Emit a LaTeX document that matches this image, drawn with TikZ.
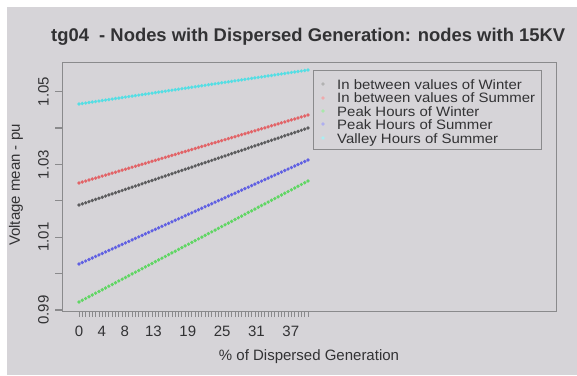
\documentclass[tikz,border=0pt]{standalone}
\usepackage{fontspec}
\setmainfont{Liberation Sans}
\definecolor{bg}{RGB}{214,212,216}
\definecolor{axc}{RGB}{138,138,140}
\definecolor{txt}{RGB}{50,50,52}
\definecolor{ccyan}{RGB}{85,222,228}
\definecolor{cred}{RGB}{226,100,104}
\definecolor{cblack}{RGB}{92,92,94}
\definecolor{cblue}{RGB}{96,96,226}
\definecolor{cgreen}{RGB}{96,214,100}
\newcommand\dline[3]{\foreach \i in {0,...,69}{\fill[#1] ({79+\i*229/69},{#2+(#3-#2)*\i/69}) circle[radius=1.85];}}
\tikzset{
  axisline/.style={draw=axc, line width=1.1pt},
  ticklab/.style={font=\fontsize{15}{17}\selectfont, text=txt, inner sep=0pt},
  legtext/.style={font=\fontsize{13.6}{15}\selectfont, text=txt, inner sep=0pt, anchor=base west, xscale=1.1},
  legdot/.style={circle, inner sep=0pt, minimum size=3.6pt},
}
\begin{document}
\begin{tikzpicture}[x=1pt,y=-1pt]
\useasboundingbox (0,0) rectangle (577,375);
\fill[white] (0,0) rectangle (577,375);
\fill[bg] (7,7) rectangle (577,375);
% title
\node[anchor=base west, inner sep=0pt, text=txt, font=\fontsize{18.4}{20}\selectfont\bfseries] (title) at (51,41.7) {tg04\ \ - Nodes with Dispersed Generation: nodes with 15KV};
% plot box
\node[axisline, anchor=north west, minimum width=494pt, minimum height=249pt, inner sep=0pt] (plotbox) at (62,62) {};
% y ticks
\foreach \v in {0,...,6}{\draw[axisline] (55,{310-\v*36.4}) -- (62,{310-\v*36.4});}
\node[ticklab, rotate=90] (y099) at (43.5,310) {0.99};
\node[ticklab, rotate=90] (y101) at (43.5,237.2) {1.01};
\node[ticklab, rotate=90] (y103) at (43.5,164.4) {1.03};
\node[ticklab, rotate=90] (y105) at (43.5,91.6) {1.05};
% x ticks
\foreach \i in {0,...,69}{\draw[draw=axc, line width=0.8pt] ({79+\i*229/69},311) -- ({79+\i*229/69},317);}
\foreach \v in {0,4,8,13,19,25,31,37}{\node[ticklab, anchor=base] (x\v) at ({79+\v*5.725},336) {\v};}
% axis labels
\node[ticklab, anchor=base] (xlab) at (309,360.5) {\% of Dispersed Generation};
\node[ticklab, rotate=90] (ylab) at (16,185) {Voltage mean - pu};
% data
\dline{ccyan}{104}{70}
\dline{cred}{183}{115}
\dline{cblack}{205}{128}
\dline{cblue}{264}{160}
\dline{cgreen}{302}{181}
% legend
\node[draw=axc, line width=1pt, anchor=north west, minimum width=228pt, minimum height=79pt, inner sep=0pt] (legend) at (313,70) {};
\node[legdot, fill=black!30] (d1) at (323,84) {};
\node[legdot, fill=cred!55] (d2) at (323,98) {};
\node[legdot, fill=cgreen!55] (d3) at (323,111) {};
\node[legdot, fill=cblue!50] (d4) at (323,124) {};
\node[legdot, fill=ccyan!50] (d5) at (323,138) {};
\node[legtext] (l1) at (337,89) {In between values of Winter};
\node[legtext] (l2) at (337,102.5) {In between values of Summer};
\node[legtext] (l3) at (337,116) {Peak Hours of Winter};
\node[legtext] (l4) at (337,129.5) {Peak Hours of Summer};
\node[legtext] (l5) at (337,143) {Valley Hours of Summer};
\end{tikzpicture}
\end{document}
